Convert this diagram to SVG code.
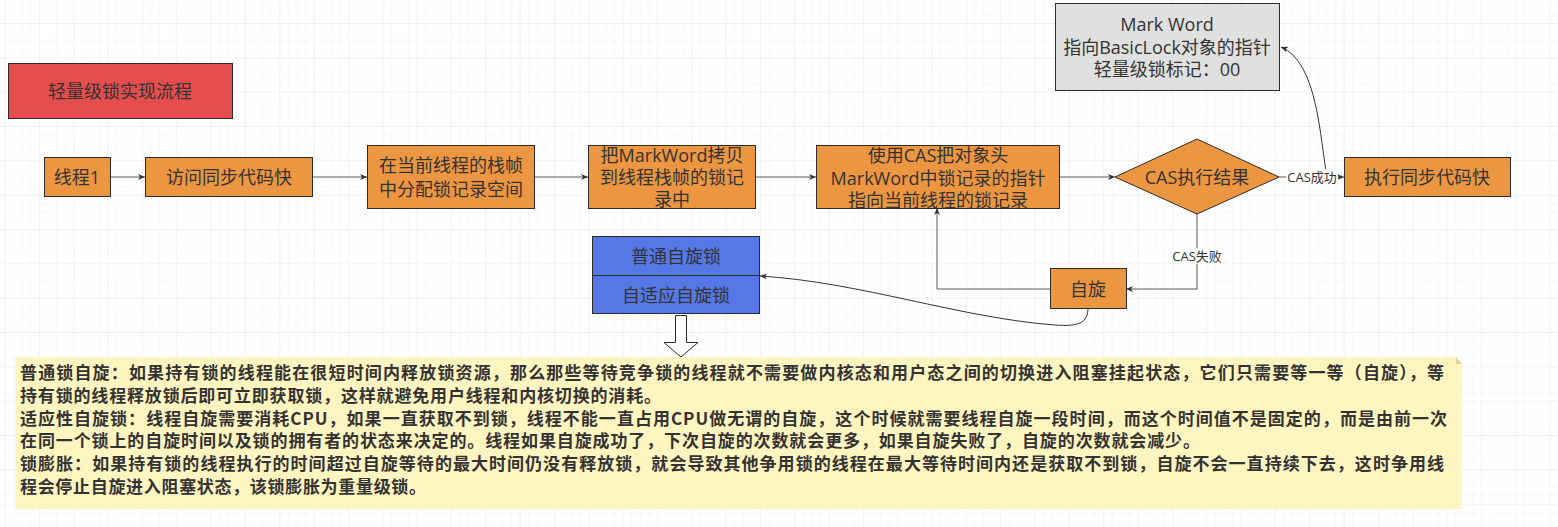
<svg xmlns="http://www.w3.org/2000/svg" width="1558" height="527" viewBox="0 0 1558 527">
<style>
  .t{font-family:"Open Sans","Noto Sans CJK SC",sans-serif;fill:#333;font-size:18px;text-anchor:middle;dominant-baseline:central}
  .lbl{font-family:"Open Sans","Noto Sans CJK SC",sans-serif;fill:#333;font-size:13px;text-anchor:middle;dominant-baseline:central}
  .note{font-family:"Noto Sans CJK SC",sans-serif;fill:#333;font-size:17px;font-weight:bold}
  .box{fill:#ED9642;stroke:#2b2b2b;stroke-width:1}
  .ln{fill:none;stroke:#5a5a5a;stroke-width:1}
  .cv{fill:none;stroke:#333;stroke-width:1}
</style>
<defs>
  <pattern id="minor" x="4.67" y="23" width="8.583" height="8.583" patternUnits="userSpaceOnUse">
    <path d="M0 0 H8.583 M0 0 V8.583" stroke="#f4f4f4" stroke-width="1" fill="none"/>
  </pattern>
  <pattern id="major" x="4.67" y="23" width="34.333" height="34.333" patternUnits="userSpaceOnUse">
    <path d="M0 0 H34.333 M0 0 V34.333" stroke="#ebebeb" stroke-width="1" fill="none"/>
  </pattern>
  <marker id="arr" markerWidth="8" markerHeight="8" refX="7" refY="3" orient="auto" markerUnits="userSpaceOnUse">
    <path d="M0,0 L7,3 L0,6 L2,3 z" fill="#333"/>
  </marker>
</defs>
<rect width="1558" height="527" fill="#fff"/>
<rect width="1558" height="527" fill="url(#minor)"/>
<rect width="1558" height="527" fill="url(#major)"/>

<g id="connectors">
  <path class="ln" d="M110 177 H145" marker-end="url(#arr)"/>
  <path class="ln" d="M312 177 H367" marker-end="url(#arr)"/>
  <path class="ln" d="M534 177 H588" marker-end="url(#arr)"/>
  <path class="ln" d="M755 177 H816" marker-end="url(#arr)"/>
  <path class="ln" d="M1059 177 H1115" marker-end="url(#arr)"/>
  <path class="ln" d="M1279 177 H1344" marker-end="url(#arr)"/>
  <path class="ln" d="M1197 214 V289 H1126" marker-end="url(#arr)"/>
  <path class="ln" d="M1050 289 H937 V208" marker-end="url(#arr)"/>
  <path class="cv" d="M1327 177 C1320 140 1318 62 1281 47" marker-end="url(#arr)"/>
  <path class="cv" d="M1088 308 C1088 322 1080 327 1055 325 C960 318 860 282 760 276" marker-end="url(#arr)"/>
  <rect x="1286" y="169" width="52" height="16" fill="#fff"/>
  <text class="lbl" x="1312" y="177">CAS成功</text>
  <rect x="1170" y="248" width="54" height="16" fill="#fff"/>
  <text class="lbl" x="1197" y="256">CAS失败</text>
</g>

<g id="title">
  <rect x="8.5" y="63.5" width="224" height="55" fill="#E64E4E" stroke="#2b2b2b"/>
  <text class="t" x="120" y="91">轻量级锁实现流程</text>
</g>
<g id="thread1">
  <rect class="box" x="44.5" y="157.5" width="66" height="39"/>
  <text class="t" x="77" y="177">线程1</text>
</g>
<g id="access">
  <rect class="box" x="145.5" y="157.5" width="167" height="39"/>
  <text class="t" x="229" y="177">访问同步代码快</text>
</g>
<g id="alloc">
  <rect class="box" x="367.5" y="145.5" width="167" height="63"/>
  <text class="t" x="451" y="165">在当前线程的栈帧</text>
  <text class="t" x="451" y="189">中分配锁记录空间</text>
</g>
<g id="copy">
  <rect class="box" x="588.5" y="145.5" width="167" height="63"/>
  <text class="t" x="672" y="155">把MarkWord拷贝</text>
  <text class="t" x="672" y="177">到线程栈帧的锁记</text>
  <text class="t" x="672" y="199">录中</text>
</g>
<g id="cas">
  <rect class="box" x="816.5" y="145.5" width="243" height="63"/>
  <text class="t" x="938" y="155">使用CAS把对象头</text>
  <text class="t" x="938" y="178">MarkWord中锁记录的指针</text>
  <text class="t" x="938" y="200">指向当前线程的锁记录</text>
</g>
<g id="result">
  <polygon points="1197,139 1279,177 1197,214 1115,177" fill="#ED9642" stroke="#2b2b2b"/>
  <text class="t" x="1197" y="177">CAS执行结果</text>
</g>
<g id="exec">
  <rect class="box" x="1344.5" y="157.5" width="166" height="39"/>
  <text class="t" x="1427" y="177">执行同步代码快</text>
</g>
<g id="markword">
  <rect x="1055.5" y="3.5" width="224" height="87" fill="#E0E0E0" stroke="#2b2b2b"/>
  <text class="t" x="1167" y="24">Mark Word</text>
  <text class="t" x="1167" y="47">指向BasicLock对象的指针</text>
  <text class="t" x="1167" y="69">轻量级锁标记：00</text>
</g>
<g id="spin">
  <rect class="box" x="1050.5" y="268.5" width="76" height="40"/>
  <text class="t" x="1088" y="289">自旋</text>
</g>
<g id="spinlocks">
  <rect x="592.5" y="236.5" width="167" height="77" fill="#5677E6" stroke="#2b2b2b"/>
  <line x1="592.5" y1="275.5" x2="759.5" y2="275.5" stroke="#2b2b2b"/>
  <text class="t" x="676" y="256">普通自旋锁</text>
  <text class="t" x="676" y="295">自适应自旋锁</text>
</g>
<g id="downarrow">
  <polygon points="675.5,315.5 686.5,315.5 686.5,342.5 698,342.5 681,357 664,342.5 675.5,342.5" fill="#fff" stroke="#2b2b2b"/>
</g>
<g id="note">
  <path d="M15 357 H1456 L1462 364 V509 H15 Z" fill="#FFF5C0"/>
  <path d="M1456 357 L1462 364 H1456 Z" fill="#E3D597"/>
  <text class="note" x="20" y="379" textLength="1424" lengthAdjust="spacing">普通锁自旋：如果持有锁的线程能在很短时间内释放锁资源，那么那些等待竞争锁的线程就不需要做内核态和用户态之间的切换进入阻塞挂起状态，它们只需要等一等（自旋），等</text>
  <text class="note" x="20" y="402" textLength="641" lengthAdjust="spacing">持有锁的线程释放锁后即可立即获取锁，这样就避免用户线程和内核切换的消耗。</text>
  <text class="note" x="20" y="425" textLength="1427" lengthAdjust="spacing">适应性自旋锁：线程自旋需要消耗CPU，如果一直获取不到锁，线程不能一直占用CPU做无谓的自旋，这个时候就需要线程自旋一段时间，而这个时间值不是固定的，而是由前一次</text>
  <text class="note" x="20" y="447" textLength="1180" lengthAdjust="spacing">在同一个锁上的自旋时间以及锁的拥有者的状态来决定的。线程如果自旋成功了，下次自旋的次数就会更多，如果自旋失败了，自旋的次数就会减少。</text>
  <text class="note" x="20" y="470" textLength="1424" lengthAdjust="spacing">锁膨胀：如果持有锁的线程执行的时间超过自旋等待的最大时间仍没有释放锁，就会导致其他争用锁的线程在最大等待时间内还是获取不到锁，自旋不会一直持续下去，这时争用线</text>
  <text class="note" x="20" y="493" textLength="406" lengthAdjust="spacing">程会停止自旋进入阻塞状态，该锁膨胀为重量级锁。</text>
</g>
</svg>
